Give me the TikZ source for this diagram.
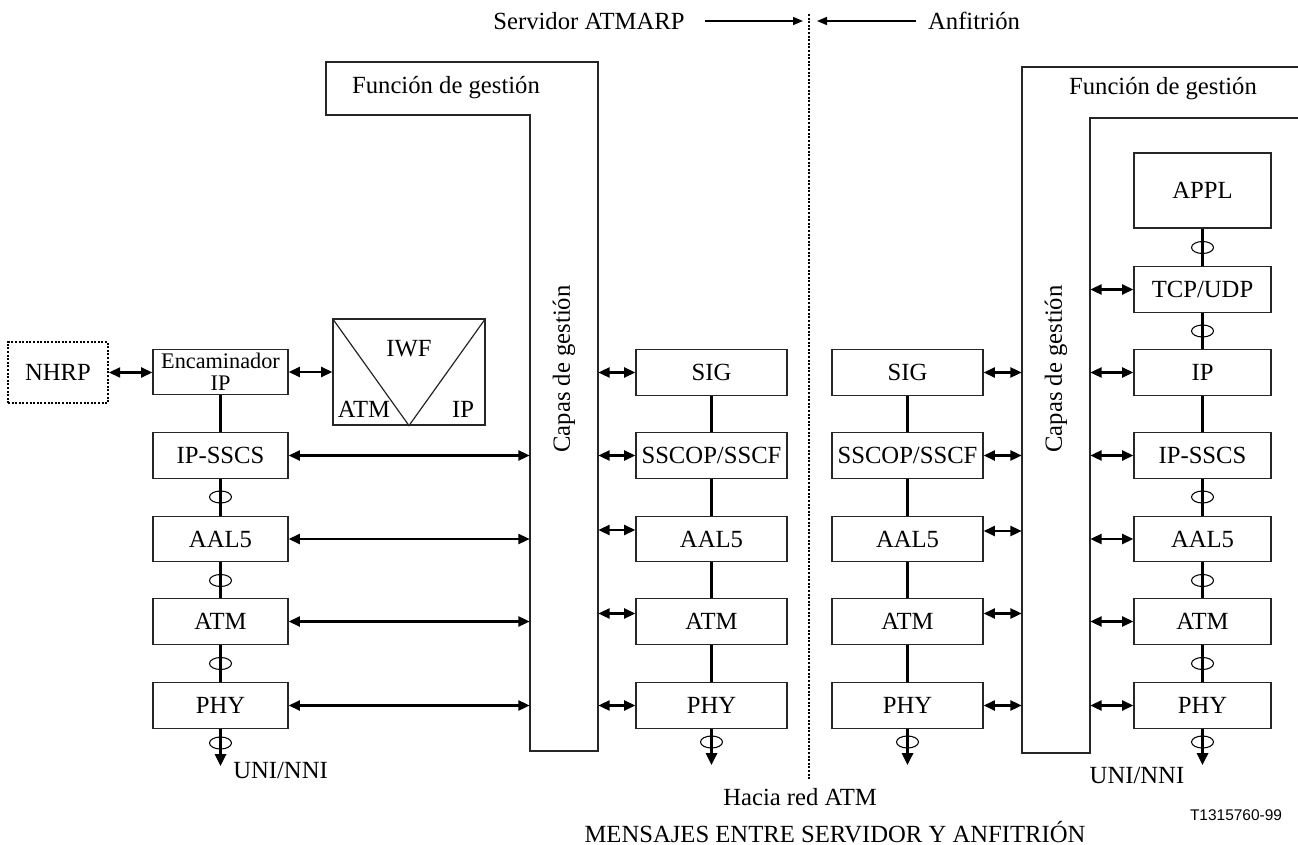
\documentclass[tikz,border=0pt]{standalone}
\usepackage{fontspec}
\setmainfont{Liberation Serif}
\newfontfamily\labsans{Liberation Sans}
\usetikzlibrary{arrows.meta,shapes.geometric,calc}
\begin{document}
\begin{tikzpicture}[x=0.75pt,y=-0.75pt,
  every node/.style={font=\fontsize{18.5}{20}\selectfont, inner sep=0pt},
  box/.style={draw=black!85, line width=0.9pt, minimum height=34.1pt},
  lbox/.style={box, minimum width=101.25pt},
  mbox/.style={box, minimum width=113.25pt},
  hbox/.style={box, minimum width=102.75pt},
  conn/.style={line width=1.7pt},
  dar/.style={conn, {Triangle[length=8.5pt,width=7.5pt]}-{Triangle[length=8.5pt,width=7.5pt]}},
  dn/.style={conn, -{Triangle[length=9pt,width=8.5pt]}},
  hdr/.style={line width=1.2pt, -{Triangle[length=7.5pt,width=6pt]}},
  ring/.style={draw, ellipse, line width=0.8pt, minimum width=16.5pt, minimum height=9pt},
  frame/.style={draw=black!85, line width=0.9pt},
  dotline/.style={line width=1.3pt, dash pattern=on 1.5pt off 1.2pt},
  nbox/.style={draw, line width=1.3pt, dash pattern=on 1.5pt off 1.2pt, minimum width=75pt, minimum height=45.75pt},
]
\useasboundingbox (0,0) rectangle (1298,845);

% header
\node (srv) at (589,21) {Servidor ATMARP};
\node (anf) at (974,21) {Anfitrión};
\coordinate (h1) at (705,21); \coordinate (h2) at (803,21);
\coordinate (h3) at (916,21); \coordinate (h4) at (817,21);
\draw[hdr] (h1) -- (h2);
\draw[hdr] (h3) -- (h4);
\coordinate (dtop) at (809,14); \coordinate (dbot) at (809,780);
\draw[dotline] (dtop) -- (dbot);

% left management function
\node[minimum width=51pt, minimum height=477pt] (colL) at (564,433) {};
\draw[frame] (326,62) -- (598,62) -- (598,751) -- (530,751) -- (530,115) -- (326,115) -- cycle;
\node (fgL) at (446,88) {Función de gestión};
\node[rotate=90] (cgL) at (564,369) {Capas de gestión};

% left stack
\node[nbox] (nhrp) at (58,372.5) {NHRP};
\node[lbox, align=center, font=\fontsize{16.7}{16.5}\selectfont] (enc) at (220.5,372) {Encaminador\\IP};
\node[box, minimum width=114pt, minimum height=79.5pt] (iwf) at (409,372) {};
\draw[frame] (iwf.north west) -- (iwf.south) -- (iwf.north east);
\node (iwft) at (409,349) {IWF};
\node (iwfa) at (364,409) {ATM};
\node (iwfi) at (463,409) {IP};
\draw[dar] (nhrp.east) -- (enc.west |- nhrp.east);
\draw[dar] (enc.east) -- (iwf.west |- enc.east);

\node[lbox] (ipsL) at (220.5,455.5) {IP-SSCS};
\node[lbox] (aalL) at (220.5,539) {AAL5};
\node[lbox] (atmL) at (220.5,621.5) {ATM};
\node[lbox] (phyL) at (220.5,705.5) {PHY};
\draw[conn] (enc.south) -- (ipsL.north);
\draw[conn] (ipsL.south) -- (aalL.north);
\draw[conn] (aalL.south) -- (atmL.north);
\draw[conn] (atmL.south) -- (phyL.north);
\coordinate (dL) at (220.5,766);
\draw[dn] (phyL.south) -- (dL);
\node[ring] (rL1) at (220.5,497) {};
\node[ring] (rL2) at (220.5,580.5) {};
\node[ring] (rL3) at (220.5,663.5) {};
\node[ring] (rL4) at (220.5,743) {};
\node[anchor=west] (uniL) at (233,770) {UNI/NNI};
\foreach \b in {ipsL,aalL,atmL,phyL}
  \draw[dar] (\b.east) -- (colL.west |- \b.east);

% middle stack (server signalling)
\node[mbox] (sigM) at (711.5,372.5) {SIG};
\node[mbox] (sscM) at (711.5,455.5) {SSCOP/SSCF};
\node[mbox] (aalM) at (711.5,539) {AAL5};
\node[mbox] (atmM) at (711.5,621.5) {ATM};
\node[mbox] (phyM) at (711.5,705.5) {PHY};
\draw[conn] (sigM.south) -- (sscM.north);
\draw[conn] (sscM.south) -- (aalM.north);
\draw[conn] (aalM.south) -- (atmM.north);
\draw[conn] (atmM.south) -- (phyM.north);
\coordinate (dM) at (711.5,765);
\draw[dn] (phyM.south) -- (dM);
\node[ring] (rM) at (711.5,742) {};
\coordinate (aM) at ($(aalM.west)+(0,-9)$);
\coordinate (tM) at ($(atmM.west)+(0,-8)$);
\draw[dar] (colL.east |- sigM.west) -- (sigM.west);
\draw[dar] (colL.east |- sscM.west) -- (sscM.west);
\draw[dar] (colL.east |- aM) -- (aM);
\draw[dar] (colL.east |- tM) -- (tM);
\draw[dar] (colL.east |- phyM.west) -- (phyM.west);

% right management function
\node[minimum width=51pt, minimum height=514.5pt] (colR) at (1056,410) {};
\draw[frame] (1298,67) -- (1022,67) -- (1022,753) -- (1090,753) -- (1090,118) -- (1298,118);
\node (fgR) at (1163,89) {Función de gestión};
\node[rotate=90] (cgR) at (1056,369) {Capas de gestión};

% host signalling stack
\node[mbox] (sigR) at (907.5,372.5) {SIG};
\node[mbox] (sscR) at (907.5,455.5) {SSCOP/SSCF};
\node[mbox] (aalR) at (907.5,539) {AAL5};
\node[mbox] (atmR) at (907.5,621.5) {ATM};
\node[mbox] (phyR) at (907.5,705.5) {PHY};
\draw[conn] (sigR.south) -- (sscR.north);
\draw[conn] (sscR.south) -- (aalR.north);
\draw[conn] (aalR.south) -- (atmR.north);
\draw[conn] (atmR.south) -- (phyR.north);
\coordinate (dR) at (907.5,765);
\draw[dn] (phyR.south) -- (dR);
\node[ring] (rR) at (907.5,742) {};
\coordinate (aR) at ($(aalR.east)+(0,-8)$);
\coordinate (tR) at ($(atmR.east)+(0,-8)$);
\draw[dar] (sigR.east) -- (colR.west |- sigR.east);
\draw[dar] (sscR.east) -- (colR.west |- sscR.east);
\draw[dar] (aR) -- (colR.west |- aR);
\draw[dar] (tR) -- (colR.west |- tR);
\draw[dar] (phyR.east) -- (colR.west |- phyR.east);

% host data stack
\node[hbox, minimum height=56.25pt] (appl) at (1202.5,190.5) {APPL};
\node[hbox] (tcp) at (1202.5,289.5) {TCP/UDP};
\node[hbox] (ipH) at (1202.5,372.5) {IP};
\node[hbox] (ipsH) at (1202.5,455.5) {IP-SSCS};
\node[hbox] (aalH) at (1202.5,539) {AAL5};
\node[hbox] (atmH) at (1202.5,621.5) {ATM};
\node[hbox] (phyH) at (1202.5,705.5) {PHY};
\draw[conn] (appl.south) -- (tcp.north);
\draw[conn] (tcp.south) -- (ipH.north);
\draw[conn] (ipH.south) -- (ipsH.north);
\draw[conn] (ipsH.south) -- (aalH.north);
\draw[conn] (aalH.south) -- (atmH.north);
\draw[conn] (atmH.south) -- (phyH.north);
\coordinate (dH) at (1202.5,765);
\draw[dn] (phyH.south) -- (dH);
\node[ring] (rH1) at (1202.5,247.5) {};
\node[ring] (rH2) at (1202.5,331) {};
\node[ring] (rH3) at (1202.5,497) {};
\node[ring] (rH4) at (1202.5,580.5) {};
\node[ring] (rH5) at (1202.5,663.5) {};
\node[ring] (rH6) at (1202.5,742) {};
\foreach \b in {tcp,ipH,ipsH,aalH,atmH,phyH}
  \draw[dar] (colR.east |- \b.west) -- (\b.west);

% bottom texts
\node (uniR) at (1137,775) {UNI/NNI};
\node (hacia) at (800,797) {Hacia red ATM};
\node[font=\labsans\fontsize{11.6}{13}\selectfont] (ref) at (1236,815) {T1315760-99};
\node[anchor=base] (msg) at (835,842) {MENSAJES ENTRE SERVIDOR Y ANFITRIÓN};
\end{tikzpicture}
\end{document}
